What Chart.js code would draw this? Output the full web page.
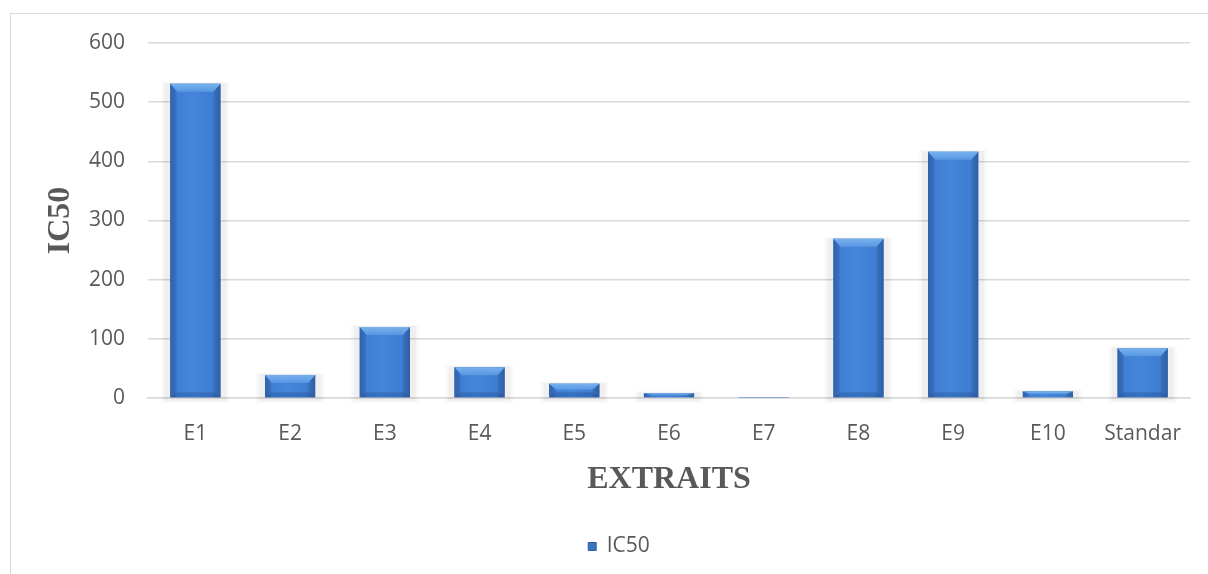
<!DOCTYPE html>
<html>
<head>
<meta charset="utf-8">
<script src="https://cdn.jsdelivr.net/npm/chart.js@4.4.1/dist/chart.umd.min.js"></script>
<style>
  html, body { margin: 0; padding: 0; background: #fff; }
  #wrap { position: relative; width: 1208px; height: 574px; overflow: hidden; }
  #frame { position: absolute; left: 10px; top: 13px; width: 1220px; height: 600px;
           border: 1px solid #d9d9d9; box-sizing: border-box; }
  #chart { position: absolute; left: 0; top: 0; }
</style>
</head>
<body>
<div id="wrap">
  <div id="frame"></div>
  <canvas id="chart" width="1208" height="574"></canvas>
</div>
<script>
// IC50 per extract
const categories = ['E1', 'E2', 'E3', 'E4', 'E5', 'E6', 'E7', 'E8', 'E9', 'E10', 'Standar'];
const ic50Values = [531, 39, 120, 52, 24, 8, 0.3, 269, 416, 11, 84];
const yTicks     = [0, 100, 200, 300, 400, 500, 600];

const TEXT_GREY = '#595959';
const BAR_BLUE  = '#3b7bd0';
const TICK_FONT = { family: 'Open Sans', size: 21 };

// ── Bevelled bar look, painted over each bar the library laid out ───────────
const bevelPlugin = {
    id: 'bevelBars',
    beforeDatasetsDraw(chart) {
        const { ctx } = chart;
        const meta = chart.getDatasetMeta(0);
        ctx.save();
        meta.data.forEach(bar => {
            const { x, y, base, width } = bar.getProps(['x', 'y', 'base', 'width'], true);
            const h = base - y;
            if (h < 0.5) return;
            // soft grey halo behind the bar
            ctx.fillStyle = 'rgba(0,0,0,0.045)';
            ctx.fillRect(x - width / 2 - 6, y - 1, width + 12, h + 5);
            ctx.fillStyle = 'rgba(0,0,0,0.025)';
            ctx.fillRect(x - width / 2 - 9, y - 2, width + 18, h + 8);
        });
        ctx.restore();
    },
    afterDatasetsDraw(chart) {
        const { ctx } = chart;
        const meta = chart.getDatasetMeta(0);
        ctx.save();
        meta.data.forEach(bar => {
            const { x, y, base, width } = bar.getProps(['x', 'y', 'base', 'width'], true);
            const h = base - y;
            if (h < 0.3) return;
            const l = x - width / 2;
            const r = x + width / 2;

            const g = ctx.createLinearGradient(l, 0, r, 0);
            g.addColorStop(0.00, '#3062aa');
            g.addColorStop(0.10, '#386dba');
            g.addColorStop(0.14, '#3f7fd5');
            g.addColorStop(0.45, '#4586da');
            g.addColorStop(0.84, '#3e7dd1');
            g.addColorStop(0.89, '#376cb7');
            g.addColorStop(1.00, '#2f5fa4');
            ctx.fillStyle = g;
            ctx.fillRect(l, y, width, h);

            // top bevel
            const bv = Math.min(8, h * 0.45);
            const inset = Math.min(7, width * 0.14);
            const tg = ctx.createLinearGradient(0, y, 0, y + bv);
            tg.addColorStop(0, '#78b1ee');
            tg.addColorStop(1, '#5797e2');
            ctx.fillStyle = tg;
            ctx.beginPath();
            ctx.moveTo(l, y);
            ctx.lineTo(r, y);
            ctx.lineTo(r - inset, y + bv);
            ctx.lineTo(l + inset, y + bv);
            ctx.closePath();
            ctx.fill();

            // bottom bevel
            if (h > 12) {
                const bb = 5;
                ctx.fillStyle = 'rgba(30,70,130,0.3)';
                ctx.beginPath();
                ctx.moveTo(l, base);
                ctx.lineTo(r, base);
                ctx.lineTo(r - inset, base - bb);
                ctx.lineTo(l + inset, base - bb);
                ctx.closePath();
                ctx.fill();
            }
        });
        ctx.restore();
    }
};

new Chart(document.getElementById('chart'), {
    type: 'bar',
    data: {
        labels: categories,
        datasets: [{
            label: 'IC50',
            data: ic50Values,
            backgroundColor: BAR_BLUE,
            borderWidth: 0,
            categoryPercentage: 1,
            barPercentage: 0.53
        }]
    },
    options: {
        responsive: false,
        animation: false,
        layout: { padding: { left: 48, right: 18, top: 43, bottom: 7 } },
        plugins: {
            tooltip: { enabled: false },
            legend: {
                position: 'bottom',
                labels: {
                    color: TEXT_GREY,
                    font: TICK_FONT,
                    boxWidth: 8,
                    boxHeight: 8,
                    padding: 6,
                    generateLabels: () => [{
                        text: 'IC50',
                        fillStyle: '#3a72c2',
                        strokeStyle: '#2d5da3',
                        lineWidth: 1,
                        fontColor: TEXT_GREY,
                        datasetIndex: 0
                    }]
                }
            }
        },
        scales: {
            x: {
                grid: { display: false, drawTicks: false },
                border: { color: '#d9d9d9', width: 1.5 },
                ticks: {
                    color: TEXT_GREY,
                    font: TICK_FONT,
                    padding: 23,
                    maxRotation: 0
                },
                title: {
                    display: true,
                    text: 'EXTRAITS',
                    color: TEXT_GREY,
                    font: { family: 'Liberation Serif', size: 32, weight: 'bold' },
                    padding: { top: 10, bottom: 31 }
                },
                afterFit(scale) { scale.height = 132; }
            },
            y: {
                min: 0,
                max: 600,
                afterBuildTicks(scale) { scale.ticks = yTicks.map(v => ({ value: v })); },
                grid: { color: '#d9d9d9', lineWidth: 1.5, drawTicks: false },
                border: { display: false },
                ticks: {
                    color: TEXT_GREY,
                    font: TICK_FONT,
                    padding: 23
                },
                title: {
                    display: true,
                    text: 'IC50',
                    color: TEXT_GREY,
                    font: { family: 'Liberation Serif', size: 32, weight: 'bold' },
                    padding: { top: -6, bottom: 0 }
                },
                afterFit(scale) { scale.width = 100; }
            }
        }
    },
    plugins: [bevelPlugin]
});
</script>
</body>
</html>
